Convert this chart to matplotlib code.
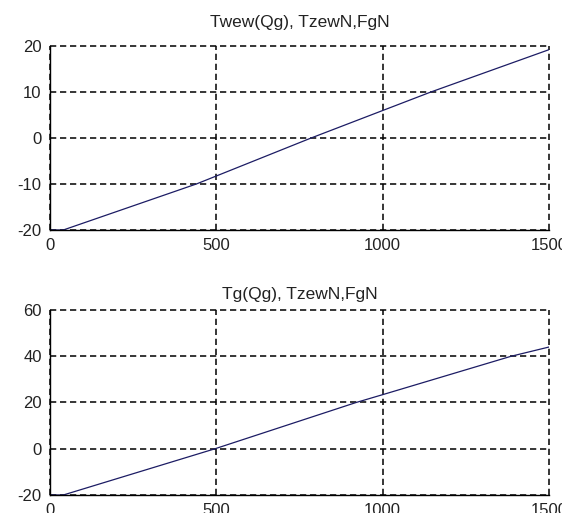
import matplotlib
matplotlib.use("Agg")
from matplotlib import pyplot as plt

plt.rcParams["font.family"] = ["Liberation Sans", "DejaVu Sans"]
plt.rcParams["lines.scale_dashes"] = False
plt.rcParams["axes.unicode_minus"] = False

# Qg values and readings of the two curves
qg = [0, 40, 440, 785, 1145, 1500]
twew = [-20, -20, -10, 0, 10, 19.2]

qg2 = [0, 40, 496, 920, 1000, 1386, 1500]
tg = [-20, -20, 0, 20, 23.4, 40, 44]

xticks = [0, 500, 1000, 1500]
yticks1 = [-20, -10, 0, 10, 20]
yticks2 = [-20, 0, 20, 40, 60]

line_color = "#1c1c64"

fig = plt.figure(figsize=(5.62, 5.13), dpi=100)
ax1 = fig.add_axes([0.089, 0.5517, 0.888, 0.3587])
ax2 = fig.add_axes([0.089, 0.0351, 0.888, 0.3606])


def style(ax, yticks, title, pad):
    ax.set_xlim(0, 1500)
    ax.set_ylim(yticks[0], yticks[-1])
    ax.set_xticks(xticks)
    ax.set_yticks(yticks)
    ax.grid(True, color="black", linestyle=(0, (4.5, 2.7)), linewidth=1.1)
    for gl in ax.get_xgridlines() + ax.get_ygridlines():
        gl.set_clip_on(False)
    ax.spines["top"].set_visible(False)
    ax.spines["right"].set_visible(False)
    ax.spines["left"].set_linewidth(1.0)
    ax.spines["bottom"].set_linewidth(1.0)
    ax.tick_params(direction="in", length=0, labelsize=12, colors="#222222", pad=6)
    ax.set_title(title, fontsize=12.5, color="#222222", pad=pad)


ax1.plot(qg, twew, color=line_color, linewidth=0.9)
style(ax1, yticks1, "Twew(Qg), TzewN,FgN", 14)

ax2.plot(qg2, tg, color=line_color, linewidth=0.9)
style(ax2, yticks2, "Tg(Qg), TzewN,FgN", 8)

fig.savefig("out.png", dpi=100)
